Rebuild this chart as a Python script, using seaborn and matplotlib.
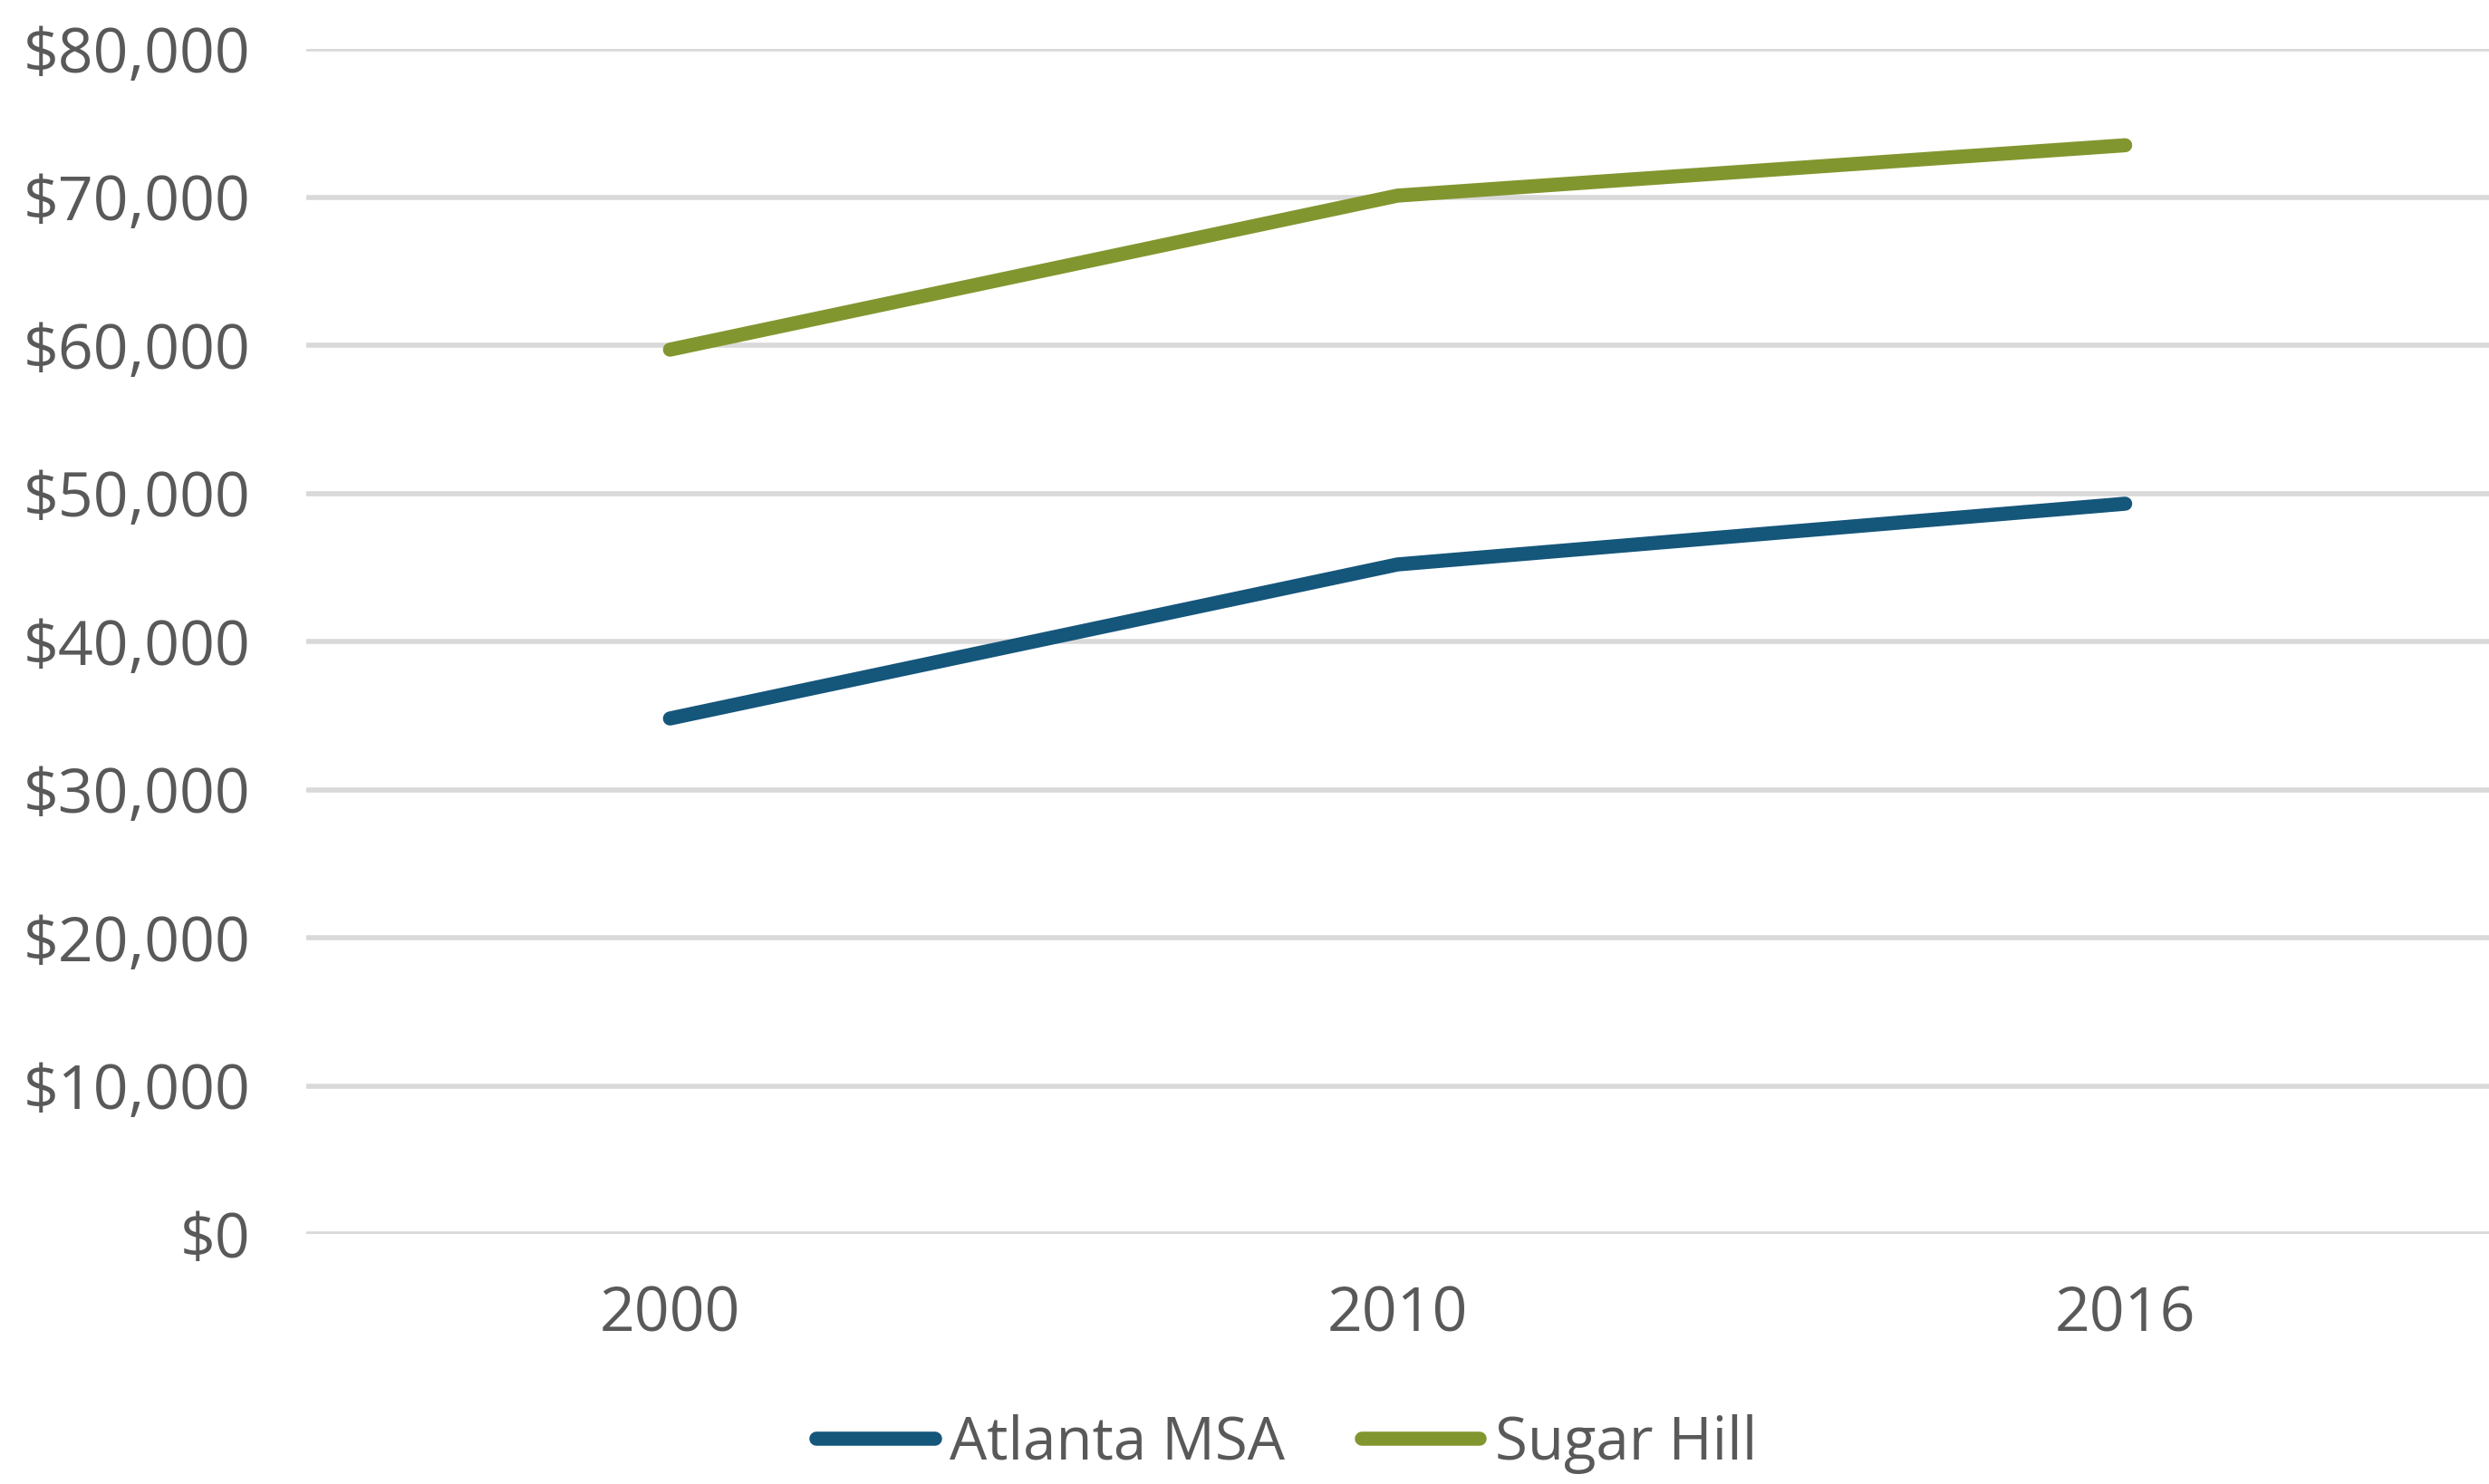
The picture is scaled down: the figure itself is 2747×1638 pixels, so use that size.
import matplotlib
matplotlib.use("Agg")
import matplotlib.pyplot as plt
import seaborn as sns
import pandas as pd
from matplotlib.ticker import FuncFormatter, MultipleLocator
from matplotlib.lines import Line2D

years = ["2000", "2010", "2016"]
atlanta_msa = [34800, 45200, 49300]
sugar_hill = [59700, 70100, 73500]
series_names = ["Atlanta MSA", "Sugar Hill"]
colors = {"Atlanta MSA": "#15567B", "Sugar Hill": "#82962F"}

df = pd.DataFrame({
    "year": years * 2,
    "income": atlanta_msa + sugar_hill,
    "series": [series_names[0]] * len(years) + [series_names[1]] * len(years),
})

sns.set_theme(style="white")
plt.rcParams["font.family"] = ["Open Sans", "DejaVu Sans"]

fig = plt.figure(figsize=(13.735, 8.19), dpi=200)
ax = fig.add_axes([0.123, 0.1685, 0.877, 0.7985])

sns.lineplot(data=df, x="year", y="income", hue="series", palette=colors,
             linewidth=5.6, ax=ax, sort=False, legend=False,
             solid_capstyle="round")

ax.set_ylim(0, 80000)
ax.set_xlim(-0.5, 2.5)
ax.yaxis.set_major_locator(MultipleLocator(10000))
ax.yaxis.set_major_formatter(FuncFormatter(lambda v, p: f"${v:,.0f}"))
ax.grid(axis="y", color="#D9D9D9", linewidth=2.0)
ax.set_axisbelow(True)
for s in ax.spines.values():
    s.set_visible(False)
ax.set_xlabel("")
ax.set_ylabel("")
ax.tick_params(axis="y", length=0, pad=22, labelsize=24.5, labelcolor="#595959")
ax.tick_params(axis="x", length=0, pad=20, labelsize=24.5, labelcolor="#595959")

handles = [Line2D([0], [0], color=colors[n], linewidth=5.6, solid_capstyle="round") for n in series_names]
fig.legend(handles, series_names, loc="center", bbox_to_anchor=(0.517, 0.027), ncol=2,
           frameon=False, fontsize=23.5, labelcolor="#595959",
           handlelength=2.0, handletextpad=0.25, columnspacing=1.3)

fig.savefig("out.png", dpi=200, facecolor="white")
